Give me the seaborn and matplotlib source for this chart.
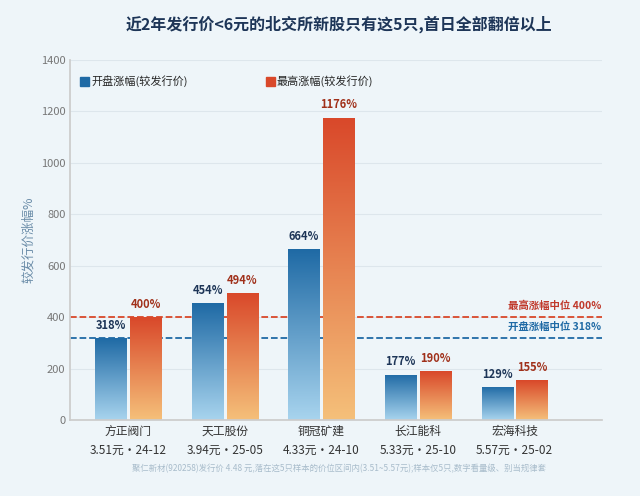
import numpy as np
import pandas as pd
import matplotlib
matplotlib.use("Agg")
import matplotlib.pyplot as plt
from matplotlib.colors import LinearSegmentedColormap
from matplotlib.patches import Patch
import seaborn as sns

names = ["方正阀门", "天工股份", "铜冠矿建", "长江能科", "宏海科技"]
subs = ["3.51元·24-12", "3.94元·25-05", "4.33元·24-10", "5.33元·25-10", "5.57元·25-02"]
open_gain = [318, 454, 664, 177, 129]
high_gain = [400, 494, 1176, 190, 155]
med_open = 318
med_high = 400

sns.set_theme(style="white")
plt.rcParams['font.family'] = ['Noto Sans CJK SC', 'DejaVu Sans']
bg = "#eef5f9"

df = pd.DataFrame({
    "name": names * 2,
    "val": open_gain + high_gain,
    "kind": ["开盘涨幅(较发行价)"] * 5 + ["最高涨幅(较发行价)"] * 5,
})

fig = plt.figure(figsize=(6.4, 4.96), dpi=100, facecolor=bg)
ax = fig.add_axes([0.11, 0.153, 0.83, 0.726], facecolor=bg)
sns.barplot(data=df, x="name", y="val", hue="kind", ax=ax, width=0.72, gap=0.1,
            palette=["#1f6aa5", "#d9482a"], legend=False)

cmaps = [LinearSegmentedColormap.from_list("b", ["#a8d4ee", "#1f6aa5"]),
         LinearSegmentedColormap.from_list("o", ["#f5c07a", "#d9482a"])]
grad = np.linspace(0, 1, 256).reshape(-1, 1)
for i, p in enumerate(ax.patches[:10]):
    x0, w, h = p.get_x(), p.get_width(), p.get_height()
    cm = cmaps[i // 5]
    im = ax.imshow(grad, extent=[x0, x0 + w, 0, h], origin="lower", aspect="auto",
                   cmap=cm, zorder=2)
    im.set_clip_path(p)
    p.set_alpha(0)
    col = "#1d3557" if i < 5 else "#a0301a"
    ax.text(x0 + w / 2, h + 25, f"{int(h)}%", ha="center", va="bottom",
            fontsize=8, fontweight="bold", color=col, zorder=3)

ax.set_xlim(-0.6, 4.9)
ax.set_ylim(0, 1400)
ax.set_yticks(range(0, 1401, 200))
ax.tick_params(axis="y", labelsize=8, colors="#777777", length=0)
ax.tick_params(axis="x", length=0)
ax.set_xticks(range(5))
ax.set_xticklabels([f"{n}\n{s}" for n, s in zip(names, subs)], fontsize=8.5, color="#333333",
                   linespacing=1.6)
ax.grid(axis="y", color="#dde6ec", linewidth=0.8)
ax.set_axisbelow(True)
for s in ["top", "right"]:
    ax.spines[s].set_visible(False)
ax.spines["left"].set_color("#cccccc")
ax.spines["bottom"].set_color("#cccccc")
ax.set_xlabel("")
ax.set_ylabel("较发行价涨幅%", fontsize=9, color="#6a8ca8")

ax.axhline(med_high, color="#d9482a", linestyle="--", linewidth=1.3, zorder=1)
ax.axhline(med_open, color="#1f6aa5", linestyle="--", linewidth=1.3, zorder=1)
ax.text(4.9, med_high + 25, f"最高涨幅中位 {med_high}%", ha="right", va="bottom",
        fontsize=7.5, fontweight="bold", color="#c0392b")
ax.text(4.9, med_open + 25, f"开盘涨幅中位 {med_open}%", ha="right", va="bottom",
        fontsize=7.5, fontweight="bold", color="#1f6aa5")

ax.legend(handles=[Patch(color="#1f6aa5", label="开盘涨幅(较发行价)"),
                   Patch(color="#d9482a", label="最高涨幅(较发行价)")],
          loc="upper left", ncol=2, frameon=False, fontsize=8, handlelength=0.8,
          handleheight=0.8, handletextpad=0.2, columnspacing=7, bbox_to_anchor=(0.0, 0.985))

fig.text(0.53, 0.94, "近2年发行价<6元的北交所新股只有这5只,首日全部翻倍以上", ha="center",
         fontsize=11.5, fontweight="bold", color="#1d3557")
fig.text(0.53, 0.05, "聚仁新材(920258)发行价 4.48 元,落在这5只样本的价位区间内(3.51~5.57元);样本仅5只,数字看量级、别当规律套",
         ha="center", fontsize=6, color="#a8bccb")

fig.savefig("out.png", dpi=100, facecolor=bg)
